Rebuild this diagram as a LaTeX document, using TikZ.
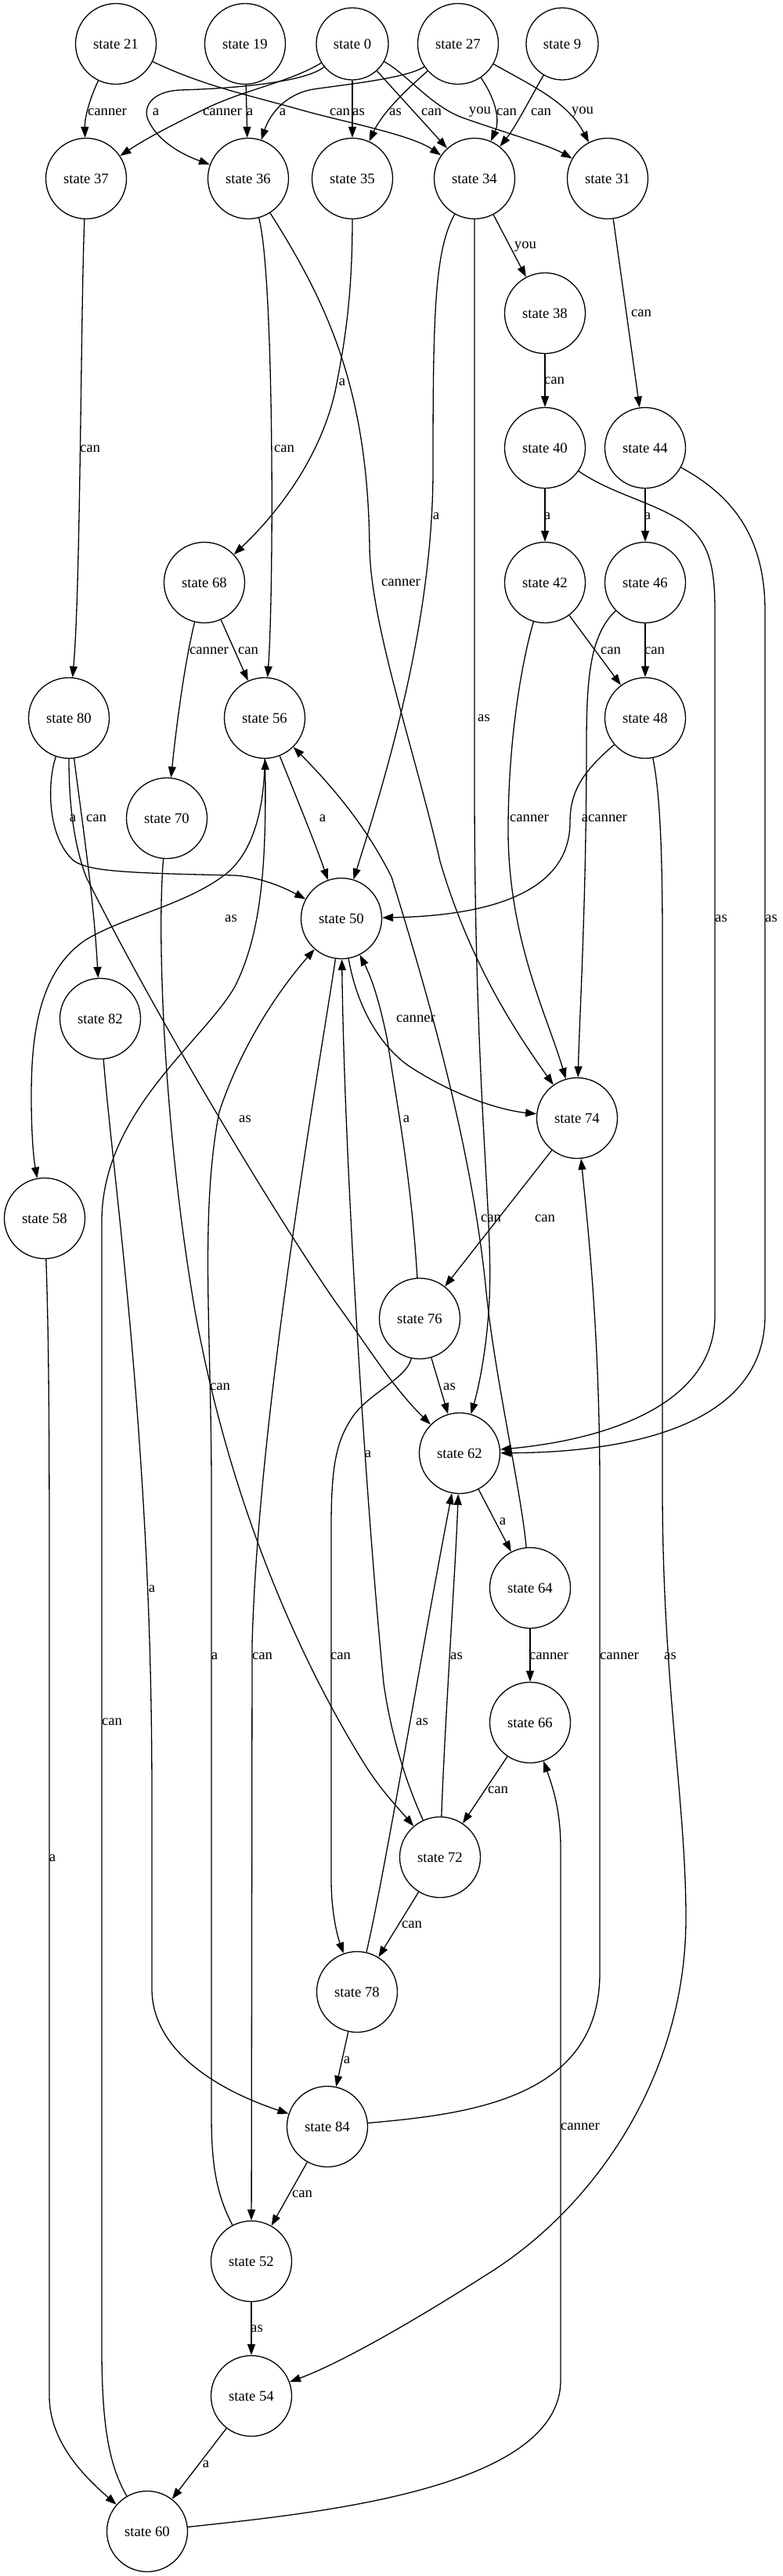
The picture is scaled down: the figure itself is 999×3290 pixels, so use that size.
\documentclass[tikz,border=0pt]{standalone}
\usepackage{fontspec}
\setmainfont{Liberation Serif}
\usetikzlibrary{arrows.meta}
\begin{document}
\begin{tikzpicture}[x=1pt,y=-1pt,
  st/.style={circle,draw,line width=1.3pt,minimum size=103pt,inner sep=0pt,font=\fontsize{18.7}{22}\selectfont},
  sts/.style={st,minimum size=92pt},
  lbl/.style={inner sep=0pt,font=\fontsize{18.7}{22}\selectfont},
  e/.style={draw,line width=1.3pt,-{Triangle[length=14pt,width=10pt]}}]
\useasboundingbox (0,0) rectangle (999,3290);
% nodes
\node[st] (n21) at (148,56) {state 21};
\node[st] (n19) at (313,56) {state 19};
\node[sts] (n0) at (450,56) {state 0};
\node[st] (n27) at (585,56) {state 27};
\node[sts] (n9) at (718,56) {state 9};
\node[st] (n37) at (110,228) {state 37};
\node[st] (n36) at (317,228) {state 36};
\node[st] (n35) at (450,228) {state 35};
\node[st] (n34) at (606,228) {state 34};
\node[st] (n31) at (776,228) {state 31};
\node[st] (n38) at (696,400) {state 38};
\node[st] (n40) at (696,572) {state 40};
\node[st] (n44) at (824,572) {state 44};
\node[st] (n68) at (261,744) {state 68};
\node[st] (n42) at (696,744) {state 42};
\node[st] (n46) at (824,744) {state 46};
\node[st] (n80) at (88,917) {state 80};
\node[st] (n56) at (338,917) {state 56};
\node[st] (n48) at (824,917) {state 48};
\node[st] (n70) at (213,1045) {state 70};
\node[st] (n50) at (436,1173) {state 50};
\node[st] (n82) at (128,1301) {state 82};
\node[st] (n74) at (737,1428) {state 74};
\node[st] (n58) at (57,1556) {state 58};
\node[st] (n76) at (536,1684) {state 76};
\node[st] (n62) at (587,1856) {state 62};
\node[st] (n64) at (677,2028) {state 64};
\node[st] (n66) at (677,2200) {state 66};
\node[st] (n72) at (562,2372) {state 72};
\node[st] (n78) at (456,2544) {state 78};
\node[st] (n84) at (418,2716) {state 84};
\node[st] (n52) at (321,2888) {state 52};
\node[st] (n54) at (321,3060) {state 54};
\node[st] (n60) at (188,3233) {state 60};
% edges
\draw[e] (n21) .. controls (115,125) and (108,150) .. (n37);
\draw[e] (n21) .. controls (260,110) and (320,122) .. (383,140) .. controls (440,156) and (525,172) .. (n34);
\draw[e] (n19) -- (n36);
\draw[e] (n0) .. controls (370,105) and (310,115) .. (260,140) .. controls (215,162) and (185,178) .. (n37);
\draw[e] (n0) .. controls (390,105) and (300,113) .. (230,115) .. controls (190,117) and (182,140) .. (190,155) .. controls (205,185) and (240,200) .. (n36);
\draw[e] (n0) -- (n35);
\draw[e] (n0) -- (n34);
\draw[e] (n0) .. controls (520,95) and (550,135) .. (590,150) .. controls (640,168) and (700,185) .. (n31);
\draw[e] (n27) .. controls (520,100) and (440,108) .. (400,114) .. controls (365,120) and (345,145) .. (n36);
\draw[e] (n27) .. controls (530,105) and (490,140) .. (n35);
\draw[e] (n27) .. controls (635,130) and (638,155) .. (n34);
\draw[e] (n27) .. controls (680,110) and (725,130) .. (n31);
\draw[e] (n9) .. controls (680,120) and (660,160) .. (n34);
\draw[e] (n37) .. controls (103,400) and (103,750) .. (n80);
\draw[e] (n36) .. controls (350,350) and (350,750) .. (n56);
\draw[e] (n36) .. controls (420,390) and (470,500) .. (472,700) .. controls (474,800) and (530,960) .. (562,1100) .. controls (600,1230) and (660,1320) .. (n74);
\draw[e] (n35) .. controls (450,380) and (440,440) .. (428,500) .. controls (410,580) and (360,650) .. (n68);
\draw[e] (n34) .. controls (555,320) and (553,400) .. (553,600) .. controls (553,800) and (490,1000) .. (n50);
\draw[e] (n34) -- (606,1000) .. controls (606,1400) and (630,1550) .. (625,1660) .. controls (622,1720) and (612,1770) .. (n62);
\draw[e] (n34) -- (n38);
\draw[e] (n31) -- (n44);
\draw[e] (n38) -- (n40);
\draw[e] (n40) -- (n42);
\draw[e] (n44) -- (n46);
\draw[e] (n40) .. controls (780,630) and (830,640) .. (870,665) .. controls (905,690) and (913,720) .. (913,780) -- (913,1680) .. controls (913,1800) and (760,1840) .. (n62);
\draw[e] (n44) .. controls (930,630) and (977,680) .. (977,780) -- (977,1680) .. controls (977,1830) and (780,1855) .. (n62);
\draw[e] (n42) -- (n48);
\draw[e] (n46) -- (n48);
\draw[e] (n42) .. controls (665,850) and (649,950) .. (649,1060) .. controls (649,1200) and (700,1300) .. (n74);
\draw[e] (n46) .. controls (755,810) and (749,860) .. (749,950) .. controls (749,1150) and (740,1300) .. (n74);
\draw[e] (n48) .. controls (745,985) and (728,1010) .. (728,1050) .. controls (728,1150) and (600,1170) .. (n50);
\draw[e] (n48) .. controls (840,1000) and (846,1050) .. (846,1200) -- (846,1900) .. controls (846,2150) and (876,2300) .. (876,2450) .. controls (876,2650) and (760,2820) .. (620,2906) .. controls (520,2970) and (430,3020) .. (n54);
\draw[e] (n68) .. controls (235,850) and (225,930) .. (n70);
\draw[e] (n68) -- (n56);
\draw[e] (n80) .. controls (60,1000) and (60,1070) .. (95,1100) .. controls (115,1112) and (150,1115) .. (300,1118) .. controls (330,1120) and (360,1132) .. (n50);
\draw[e] (n80) .. controls (105,1050) and (120,1150) .. (n82);
\draw[e] (n80) .. controls (88,1030) and (95,1080) .. (110,1120) .. controls (200,1300) and (350,1550) .. (430,1665) .. controls (470,1720) and (500,1770) .. (n62);
\draw[e] (n56) .. controls (338,1040) and (320,1090) .. (290,1115) .. controls (240,1155) and (160,1170) .. (110,1200) .. controls (50,1240) and (40,1320) .. (40,1400) .. controls (40,1450) and (43,1480) .. (n58);
\draw[e] (n56) .. controls (375,1010) and (400,1070) .. (n50);
\draw[e] (n60) .. controls (140,3150) and (130,3100) .. (130,3000) -- (130,1560) .. controls (130,1420) and (260,1330) .. (300,1260) .. controls (335,1190) and (340,1100) .. (n56);
\draw[e] (n58) .. controls (62,1700) and (63,1800) .. (63,2000) -- (63,3060) .. controls (63,3120) and (110,3165) .. (n60);
\draw[e] (n82) .. controls (140,1450) and (160,1600) .. (175,1800) .. controls (190,2000) and (194,2150) .. (194,2300) -- (194,2540) .. controls (194,2620) and (280,2670) .. (n84);
\draw[e] (n70) .. controls (200,1200) and (210,1450) .. (250,1680) .. controls (300,1950) and (400,2150) .. (470,2260) .. controls (490,2290) and (505,2305) .. (n72);
\draw[e] (n52) .. controls (275,2800) and (270,2760) .. (270,2700) -- (270,1900) .. controls (270,1700) and (255,1550) .. (280,1420) .. controls (310,1330) and (360,1260) .. (n50);
\draw[e] (n50) .. controls (410,1350) and (330,1800) .. (322,2100) -- (n52);
\draw[e] (n76) .. controls (520,1760) and (470,1780) .. (450,1810) .. controls (430,1840) and (423,1870) .. (423,1950) -- (423,2400) .. controls (423,2440) and (430,2470) .. (n78);
\draw[e] (n72) .. controls (520,2280) and (500,2220) .. (490,2150) .. controls (470,1950) and (440,1500) .. (n50);
\draw[e] (n72) .. controls (568,2200) and (582,2000) .. (n62);
\draw[e] (n78) .. controls (490,2400) and (540,2100) .. (n62);
\draw[e] (n72) -- (n78);
\draw[e] (n78) -- (n84);
\draw[e] (n84) -- (n52);
\draw[e] (n52) -- (n54);
\draw[e] (n54) -- (n60);
\draw[e] (n66) -- (n72);
\draw[e] (n64) -- (n66);
\draw[e] (n62) -- (n64);
\draw[e] (n76) -- (n62);
\draw[e] (n64) .. controls (665,1900) and (630,1750) .. (620,1640) .. controls (600,1450) and (540,1250) .. (500,1120) .. controls (470,1060) and (430,1010) .. (n56);
\draw[e] (n76) .. controls (525,1500) and (505,1400) .. (495,1330) .. controls (485,1280) and (475,1250) .. (n50);
\draw[e] (n74) -- (n76);
\draw[e] (n50) .. controls (455,1280) and (480,1330) .. (520,1360) .. controls (580,1400) and (640,1418) .. (n74);
\draw[e] (n84) .. controls (600,2700) and (766,2680) .. (766,2520) -- (766,1900) .. controls (766,1700) and (750,1560) .. (n74);
\draw[e] (n60) .. controls (400,3210) and (716,3180) .. (716,3040) -- (716,2360) .. controls (716,2310) and (705,2280) .. (n66);
% labels
\node[lbl] (l1) at (137,143) {canner};
\node[lbl] (l2) at (434,143) {can};
\node[lbl] (l3) at (319,143) {a};
\node[lbl] (l4) at (284,143) {canner};
\node[lbl] (l5) at (199,143) {a};
\node[lbl] (l6) at (458,143) {as};
\node[lbl] (l7) at (551,143) {can};
\node[lbl] (l8) at (613,143) {you};
\node[lbl] (l9) at (361,143) {a};
\node[lbl] (l10) at (505,143) {as};
\node[lbl] (l11) at (647,143) {can};
\node[lbl] (l12) at (744,143) {you};
\node[lbl] (l13) at (691,143) {can};
\node[lbl] (l14) at (115,573) {can};
\node[lbl] (l15) at (363,573) {can};
\node[lbl] (l16) at (512,744) {canner};
\node[lbl] (l17) at (437,488) {a};
\node[lbl] (l18) at (557,659) {a};
\node[lbl] (l19) at (618,917) {as};
\node[lbl] (l20) at (671,315) {you};
\node[lbl] (l21) at (819,400) {can};
\node[lbl] (l22) at (708,486) {can};
\node[lbl] (l23) at (699,659) {a};
\node[lbl] (l24) at (827,659) {a};
\node[lbl] (l25) at (921,1173) {as};
\node[lbl] (l26) at (985,1173) {as};
\node[lbl] (l27) at (780,831) {can};
\node[lbl] (l28) at (836,831) {can};
\node[lbl] (l29) at (676,1045) {canner};
\node[lbl] (l30) at (776,1045) {canner};
\node[lbl] (l31) at (747,1045) {a};
\node[lbl] (l32) at (856,2115) {as};
\node[lbl] (l33) at (267,831) {canner};
\node[lbl] (l34) at (317,831) {can};
\node[lbl] (l35) at (93,1045) {a};
\node[lbl] (l36) at (123,1045) {can};
\node[lbl] (l37) at (313,1429) {as};
\node[lbl] (l38) at (295,1173) {as};
\node[lbl] (l39) at (412,1045) {a};
\node[lbl] (l40) at (143,2199) {can};
\node[lbl] (l41) at (67,2373) {a};
\node[lbl] (l42) at (194,2029) {a};
\node[lbl] (l43) at (281,1771) {can};
\node[lbl] (l44) at (274,2115) {a};
\node[lbl] (l45) at (335,2115) {can};
\node[lbl] (l46) at (435,2115) {can};
\node[lbl] (l47) at (470,1857) {a};
\node[lbl] (l48) at (583,2115) {as};
\node[lbl] (l49) at (539,2199) {as};
\node[lbl] (l50) at (526,2458) {can};
\node[lbl] (l51) at (443,2631) {a};
\node[lbl] (l52) at (386,2802) {can};
\node[lbl] (l53) at (328,2974) {as};
\node[lbl] (l54) at (263,3147) {a};
\node[lbl] (l55) at (636,2286) {can};
\node[lbl] (l56) at (701,2115) {canner};
\node[lbl] (l57) at (642,1943) {a};
\node[lbl] (l58) at (574,1771) {as};
\node[lbl] (l59) at (627,1556) {can};
\node[lbl] (l60) at (519,1429) {a};
\node[lbl] (l61) at (696,1556) {can};
\node[lbl] (l62) at (531,1301) {canner};
\node[lbl] (l63) at (791,2115) {canner};
\node[lbl] (l64) at (741,2716) {canner};
\end{tikzpicture}
\end{document}
